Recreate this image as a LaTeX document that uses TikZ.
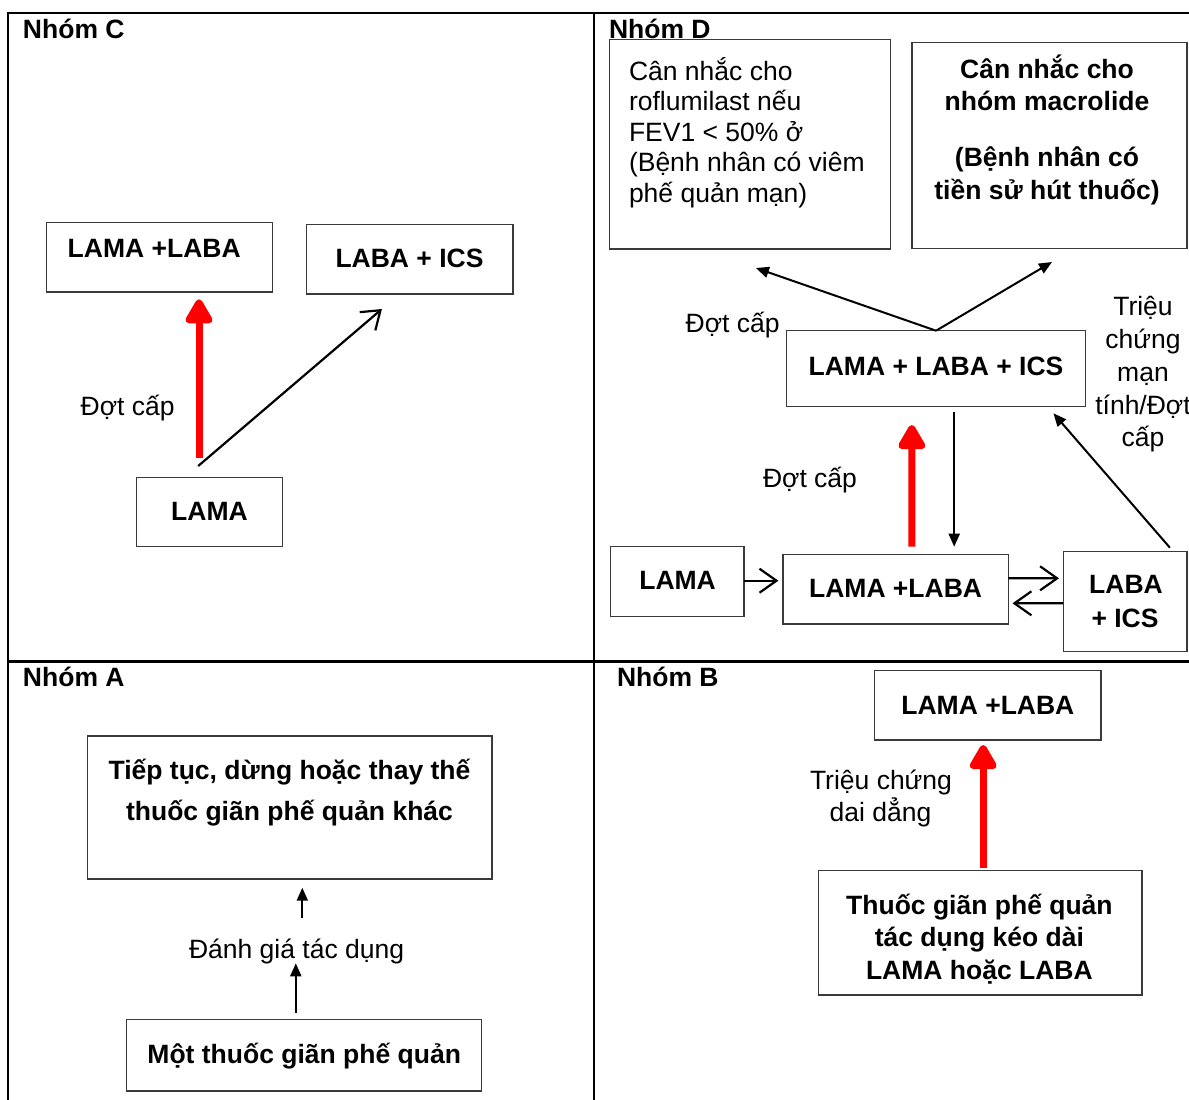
\documentclass[tikz,border=0pt]{standalone}
\usepackage{fontspec}
\setmainfont{Liberation Sans}
\usetikzlibrary{arrows.meta,calc}
\definecolor{boxgray}{HTML}{3A3A3A}
\definecolor{pured}{HTML}{FF0000}

\begin{document}
\begin{tikzpicture}[x=1pt,y=-1pt,
  txt/.style={font=\fontsize{26.5}{30}\selectfont, inner sep=0pt, outer sep=0pt, anchor=base},
  btxt/.style={txt, font=\fontsize{26.5}{30}\selectfont\bfseries},
  ltxt/.style={txt, anchor=base west},
  title/.style={btxt, anchor=base west},
  box/.style={draw=boxgray, line width=1.4pt, inner sep=0pt, outer sep=0pt},
  frame/.style={draw=black, line width=2.2pt},
  tri/.style={draw=black, line width=2pt, -{Triangle[length=13pt,width=11pt]}},
  barb/.style={draw=black, line width=2.2pt, -{Straight Barb[length=17pt,width=24pt]}},
  redarr/.style={draw=pured, line width=7pt, -{Triangle[round,length=28pt,width=30pt]}}
]
\useasboundingbox (0,0) rectangle (1189,1100);
\clip (0,0) rectangle (1189,1100);

% quadrant frame
\draw[frame] (8,13) rectangle (1210,1120);
\draw[frame] (594,13) -- (594,1120);
\draw[frame] (8,661.5) -- (1210,661.5);

% quadrant titles
\node[title] (tC) at (23,38.5) {Nhóm C};
\node[title] (tD) at (609,38.5) {Nhóm D};
\node[title] (tA) at (23,686.7) {Nhóm A};
\node[title] (tB) at (617,686.7) {Nhóm B};

% ---------------- group C ----------------
\node[box, minimum width=225.8pt, minimum height=69.3pt] (cLL) at (159.6,257.35) {};
\node[btxt] (cLLt) at (154.2,257.5) {LAMA +LABA};
\node[box, minimum width=206.3pt, minimum height=69.7pt] (cLI) at (409.65,259.15) {};
\node[btxt] (cLIt) at (409.5,267) {LABA + ICS};
\node[box, minimum width=145.8pt, minimum height=69.4pt] (cL) at (209.5,512) {};
\node[btxt] (cLt) at (209.5,520) {LAMA};
\node[txt] (cE) at (127.6,415) {Đợt cấp};

\draw[redarr] ([shift={(-10.5,-19)}]cL.north) -- ([shift={(39.4,7.3)}]cLL.south);
\draw[barb] ([shift={(-11.3,-11.3)}]cL.north) -- ([shift={(-27.75,15)}]cLI.south);

% ---------------- group D ----------------
\node[box, minimum width=281pt, minimum height=209.7pt] (dR) at (749.9,144.15) {};
\node[ltxt] (dR1) at (629,80) {Cân nhắc cho};
\node[ltxt] (dR2) at (629,110.5) {roflumilast nếu};
\node[ltxt] (dR3) at (629,141.3) {FEV1 < 50\% ở};
\node[ltxt] (dR4) at (629,171.8) {(Bệnh nhân có viêm};
\node[ltxt] (dR5) at (629,202.3) {phế quản mạn)};

\node[box, minimum width=275pt, minimum height=206pt] (dM) at (1049.3,145.3) {};
\node[btxt] (dM1) at (1047,78) {Cân nhắc cho};
\node[btxt] (dM2) at (1047,110.5) {nhóm macrolide};
\node[btxt] (dM3) at (1047,166.5) {(Bệnh nhân có};
\node[btxt] (dM4) at (1047,199) {tiền sử hút thuốc)};

\node[box, minimum width=298.7pt, minimum height=76pt] (dT) at (936.05,368.7) {};
\node[btxt] (dTt) at (936,375) {LAMA + LABA + ICS};

\node[box, minimum width=133.4pt, minimum height=70pt] (dL) at (677.2,581.7) {};
\node[btxt] (dLt) at (677.6,589) {LAMA};
\node[box, minimum width=225.3pt, minimum height=69.7pt] (dLL) at (895.65,589.15) {};
\node[btxt] (dLLt) at (895.6,597.5) {LAMA +LABA};
\node[box, minimum width=123.6pt, minimum height=100pt] (dLI) at (1125,601.7) {};
\node[btxt] (dLI1) at (1126,593.5) {LABA};
\node[btxt] (dLI2) at (1125,627) {+ ICS};

\node[txt] (dE1) at (732.6,332.5) {Đợt cấp};
\node[txt] (dE2) at (810,487) {Đợt cấp};
\node[txt] (dS1) at (1143,315) {Triệu};
\node[txt] (dS2) at (1143,348) {chứng};
\node[txt] (dS3) at (1143,381) {mạn};
\node[txt] (dS4) at (1143,414) {tính/Đợt};
\node[txt] (dS5) at (1143,446.5) {cấp};

\draw[tri] (dT.north) -- ([shift={(6,19)}]dR.south);
\draw[tri] (dT.north) -- ([shift={(2.7,13.7)}]dM.south);
\draw[redarr] ([shift={(16.15,-7.6)}]dLL.north) -- ([shift={(-24.25,18.3)}]dT.south);
\draw[tri] ([shift={(18.15,5.6)}]dT.south) -- ([shift={(58.55,-7.6)}]dLL.north);
\draw[barb] ([shift={(0,-1)}]dL.east) -- ([shift={(-4.6,-8.45)}]dLL.west);
\draw[barb] ([shift={(0,-10.85)}]dLL.east) -- ([shift={(-4.2,-23.4)}]dLI.west);
\draw[barb] ([shift={(0,1.6)}]dLI.west) -- ([shift={(4.2,14.15)}]dLL.east);
\draw[tri] ([shift={(44.9,-4)}]dLI.north) -- ([shift={(-32,6.6)}]dT.south east);

% ---------------- group A ----------------
\node[box, minimum width=404.5pt, minimum height=143pt] (aT) at (289.55,807.5) {};
\node[btxt] (aT1) at (289.5,779) {Tiếp tục, dừng hoặc thay thế};
\node[btxt] (aT2) at (289.5,820.5) {thuốc giãn phế quản khác};
\node[box, minimum width=355.1pt, minimum height=71.7pt] (aM) at (303.85,1055.15) {};
\node[btxt] (aMt) at (304.2,1063.5) {Một thuốc giãn phế quản};
\node[txt] (aE) at (296.6,958.8) {Đánh giá tác dụng};

\draw[tri] ([shift={(5.7,-40.5)}]aE.base) -- ([shift={(12.75,8.7)}]aT.south);
\draw[tri] ([shift={(-8.05,-6)}]aM.north) -- ([shift={(-0.8,4.5)}]aE.base);

% ---------------- group B ----------------
\node[box, minimum width=226.6pt, minimum height=69.3pt] (bLL) at (987.5,705.35) {};
\node[btxt] (bLLt) at (987.9,714) {LAMA +LABA};
\node[box, minimum width=323.4pt, minimum height=124.3pt] (bT) at (980.3,932.85) {};
\node[btxt] (bT1) at (979.4,914) {Thuốc giãn phế quản};
\node[btxt] (bT2) at (979.4,946.5) {tác dụng kéo dài};
\node[btxt] (bT3) at (979.4,979) {LAMA hoặc LABA};
\node[txt] (bS1) at (881,789.3) {Triệu chứng};
\node[txt] (bS2) at (880.5,821) {dai dẳng};

\draw[redarr] ([shift={(2.9,-2.4)}]bT.north) -- ([shift={(-4.3,5)}]bLL.south);
\end{tikzpicture}
\end{document}
